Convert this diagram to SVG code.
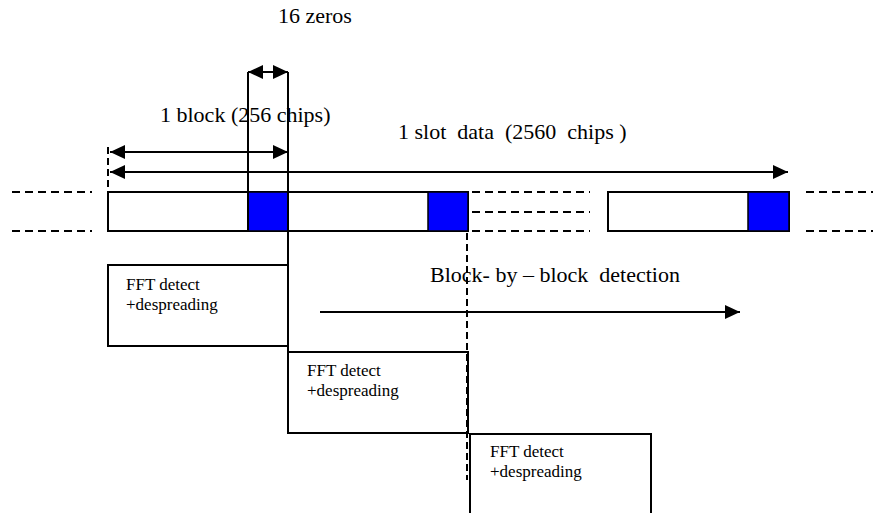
<svg xmlns="http://www.w3.org/2000/svg" width="873" height="513" viewBox="0 0 873 513">
<defs>
<marker id="ah" viewBox="0 0 15 14" refX="15" refY="7" markerWidth="15" markerHeight="14" markerUnits="userSpaceOnUse" orient="auto-start-reverse">
<path d="M0,0 L15,7 L0,14 z" fill="#000"/>
</marker>
<style>
.lbl{font-family:"Liberation Serif","Times New Roman",serif;fill:#000}
.big{font-size:22px}
.small{font-size:17px}
.box{fill:#fff;stroke:#000;stroke-width:2}
.zero{fill:#0000ff;stroke:#000;stroke-width:1.5}
.ln{stroke:#000;stroke-width:2;fill:none}
.dash{stroke:#000;stroke-width:2;fill:none;stroke-dasharray:8 5}
.vdash{stroke:#000;stroke-width:2;fill:none;stroke-dasharray:7 4}
.arr{stroke:#000;stroke-width:2;fill:none;marker-end:url(#ah)}
.arr2{stroke:#000;stroke-width:2;fill:none;marker-start:url(#ah);marker-end:url(#ah)}
</style>
</defs>
<rect width="873" height="513" fill="#fff"/>

<g id="slot-strip-1">
<rect class="box" x="108" y="192" width="360" height="39"/>
<rect class="zero" x="248" y="192" width="40" height="39"/>
<rect class="zero" x="428" y="192" width="40" height="39"/>
</g>
<g id="slot-strip-2">
<rect class="box" x="608" y="192" width="181" height="39"/>
<rect class="zero" x="748" y="192" width="41" height="39"/>
</g>

<g id="fft-1">
<rect class="box" x="108" y="265" width="180" height="81"/>
<text class="lbl small" x="126" y="290">FFT detect</text>
<text class="lbl small" x="126" y="310">+despreading</text>
</g>
<g id="fft-2">
<rect class="box" x="288" y="352" width="180" height="81"/>
<text class="lbl small" x="307" y="376">FFT detect</text>
<text class="lbl small" x="307" y="396">+despreading</text>
</g>
<g id="fft-3">
<rect class="box" x="470" y="434" width="181" height="90"/>
<text class="lbl small" x="490" y="457">FFT detect</text>
<text class="lbl small" x="490" y="477">+despreading</text>
</g>

<g id="connectors">
<line class="dash" x1="12" y1="192" x2="92" y2="192"/>
<line class="dash" x1="12" y1="231" x2="92" y2="231"/>
<line class="dash" x1="472" y1="192" x2="590" y2="192"/>
<line class="dash" x1="472" y1="212" x2="590" y2="212"/>
<line class="dash" x1="472" y1="231" x2="590" y2="231"/>
<line class="dash" x1="806" y1="192" x2="873" y2="192"/>
<line class="dash" x1="806" y1="231" x2="873" y2="231"/>
<line class="vdash" x1="108" y1="147" x2="108" y2="192"/>
<line class="vdash" x1="467" y1="233" x2="467" y2="480"/>
<line class="ln" x1="248" y1="72" x2="248" y2="231"/>
<line class="ln" x1="288" y1="72" x2="288" y2="433"/>
<line class="arr2" x1="248" y1="72" x2="288" y2="72"/>
<line class="arr2" x1="110" y1="152" x2="288" y2="152"/>
<line class="arr2" x1="110" y1="172" x2="788" y2="172"/>
<line class="arr" x1="320" y1="312" x2="740" y2="312"/>
</g>

<text class="lbl big" x="278" y="23">16 zeros</text>
<text class="lbl big" x="160" y="122">1 block (256 chips)</text>
<text class="lbl big" x="398" y="139" xml:space="preserve">1 slot  data  (2560  chips )</text>
<text class="lbl big" x="430" y="282" xml:space="preserve">Block- by – block  detection</text>
</svg>
